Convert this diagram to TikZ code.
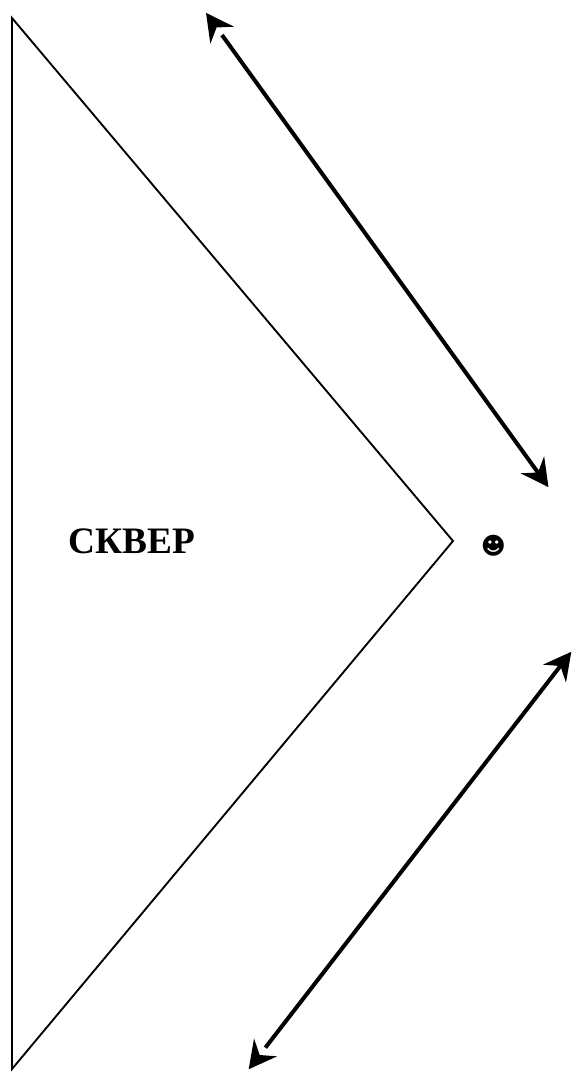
\documentclass[tikz,border=0pt]{standalone}
\usepackage{fontspec}
\setmainfont{Liberation Serif}
\newfontfamily\symfont{DejaVu Sans}
\usetikzlibrary{arrows.meta}
\tikzset{
  x=0.75pt,y=-0.75pt,
  wedge/.style={draw=black,line width=1.4pt,line join=miter},
  headtip/.tip={Stealth[length=20.5pt,width=21.5pt,inset=7pt,sep=4.5pt]},
  dbl/.style={draw=black,line width=3pt,{headtip[]. }-{headtip[]. }},
  lbl/.style={font=\bfseries\fontsize{28pt}{30pt}\selectfont,inner sep=0pt,anchor=base west},
  face/.style={font=\symfont\fontsize{18pt}{20pt}\selectfont,inner sep=0pt}
}
\begin{document}
\begin{tikzpicture}
\useasboundingbox (0,0) rectangle (574,1080);
\coordinate (top) at (12,18);
\coordinate (apex) at (453,541);
\coordinate (bot) at (12,1069);
\draw[wedge] (top) -- (apex) -- (bot) -- cycle;
\node[lbl] (sq) at (68.5,553) {СКВЕР};
\node[face] (me) at (493.5,545.5) {☻};
\coordinate (a1) at (202.5,8);
\coordinate (a2) at (552,492);
\coordinate (b1) at (245,1074);
\coordinate (b2) at (575,647);
\draw[dbl] (a1) -- (a2);
\draw[dbl] (b1) -- (b2);
\end{tikzpicture}
\end{document}
